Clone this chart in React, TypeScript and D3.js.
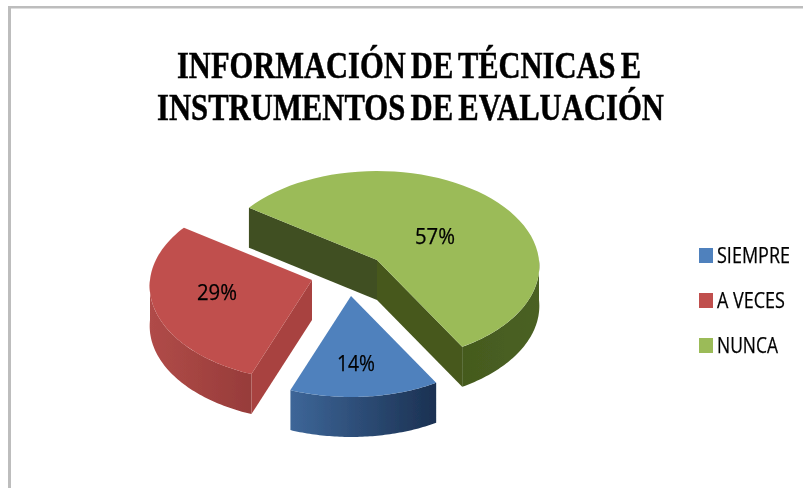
import React from "react";
import * as d3 from "d3";

const categories = ["SIEMPRE", "A VECES", "NUNCA"];
const values = [14, 29, 57];
const labels = ["14%", "29%", "57%"];
const titleLines = ["INFORMACIÓN DE TÉCNICAS E", "INSTRUMENTOS DE EVALUACIÓN"];

const topColors = ["#4F81BD", "#C0504D", "#9BBB59"];
const apexes: [number, number][] = [[351, 296], [312, 280], [377, 260]];
const labelPos: [number, number][] = [[356, 371], [217, 300], [435, 244]];
const labelWidths = [38, 40, 40];
const legendWidths = [73, 68, 61];
const DEPTH = 40;
const RX = 162;
const RY = 94.6;
const K = 0.063;
const START = (-55 * Math.PI) / 180 + (2 * Math.PI * 57) / 100;

const pie = d3.pie<number>().sort(null).startAngle(START).endAngle(START + 2 * Math.PI);
const arcs = pie(values);

const project = (a: number, apex: [number, number], dy = 0): [number, number] => {
  const w = 1 + K * Math.cos(a);
  return [apex[0] + (RX * Math.sin(a)) / w, apex[1] - (RY * Math.cos(a)) / w + dy];
};
const line = d3.line<[number, number]>();
const sample = (a0: number, a1: number, apex: [number, number], dy = 0) =>
  d3.range(0, 61).map((i) => project(a0 + ((a1 - a0) * i) / 60, apex, dy));

const wall = (a0: number, a1: number, apex: [number, number]) => {
  const top = sample(a0, a1, apex);
  const bottom = sample(a0, a1, apex, DEPTH).reverse();
  return line([...top, ...bottom]) + "Z";
};
const top = (a0: number, a1: number, apex: [number, number]) =>
  line([apex, ...sample(a0, a1, apex)]) + "Z";
const radialWall = (a: number, apex: [number, number]) => {
  const p = project(a, apex);
  return line([apex, p, [p[0], p[1] + DEPTH], [apex[0], apex[1] + DEPTH]]) + "Z";
};

export default function App() {
  const [blue, red, green] = arcs;
  const H = Math.PI / 2;
  return (
    <svg width={803} height={488} style={{ position: "fixed", left: 0, top: 0, background: "#fff" }}>
      <defs>
        <filter id="soft" x="-5%" y="-5%" width="110%" height="110%">
          <feGaussianBlur stdDeviation="0.6" />
        </filter>
        <linearGradient id="blueWall" x1="0" x2="1" y1="0" y2="0">
          <stop offset="0" stopColor="#3D6698" />
          <stop offset="1" stopColor="#1B3152" />
        </linearGradient>
        <linearGradient id="redWall" x1="0" x2="1" y1="0" y2="0">
          <stop offset="0" stopColor="#B04B48" />
          <stop offset="1" stopColor="#973C3A" />
        </linearGradient>
        <linearGradient id="greenWall" x1="0" x2="1" y1="0" y2="0">
          <stop offset="0" stopColor="#445A1E" />
          <stop offset="1" stopColor="#4B6123" />
        </linearGradient>
      </defs>
      <rect x={0} y={0} width={803} height={488} fill="#fff" />
      <g fill="#BDBDBD">
        <rect x={8} y={6} width={795} height={2.5} />
        <rect x={8} y={6} width={3} height={482} />
      </g>

      <g filter="url(#soft)">
        <path d={wall(red.startAngle, Math.min(red.endAngle, 3 * H), apexes[1])} fill="url(#redWall)" />
        <path d={radialWall(red.startAngle, apexes[1])} fill="#A8423F" />
        <path d={top(red.startAngle, red.endAngle, apexes[1])} fill={topColors[1]} />
        <path d={wall(blue.startAngle, blue.endAngle, apexes[0])} fill="url(#blueWall)" />
        <path d={top(blue.startAngle, blue.endAngle, apexes[0])} fill={topColors[0]} />
        <path d={radialWall(green.startAngle, apexes[2])} fill="#3F5020" />
        <path d={radialWall(green.endAngle, apexes[2])} fill="#47591F" />
        <path d={wall(H + 2 * Math.PI, green.endAngle, apexes[2])} fill="url(#greenWall)" />
        <path d={top(green.startAngle, green.endAngle, apexes[2])} fill={topColors[2]} />
      </g>

      <g filter="url(#soft)" fontFamily="'Open Sans',sans-serif" fill="#000" stroke="#000" strokeWidth={0.25}>
        {labels.map((t, i) => (
          <text key={t} x={labelPos[i][0] - labelWidths[i] / 2} y={labelPos[i][1]} fontSize={21} textLength={labelWidths[i]} lengthAdjust="spacingAndGlyphs">{t}</text>
        ))}
      </g>

      <g filter="url(#soft)" fontFamily="'Liberation Serif',serif" fontWeight="bold" fill="#000" stroke="#000" strokeWidth={0.5} fontSize={38} wordSpacing={-3}>
        <text x={177} y={78} textLength={464} lengthAdjust="spacingAndGlyphs">{titleLines[0]}</text>
        <text x={157} y={120} textLength={507} lengthAdjust="spacingAndGlyphs">{titleLines[1]}</text>
      </g>

      <g filter="url(#soft)">
        {categories.map((c, i) => {
          const y = 248 + i * 45;
          return (
            <g key={c}>
              <rect x={699} y={y} width={14} height={15} fill={topColors[i]} />
              <text x={717} y={y + 15} fontSize={21} fill="#000" stroke="#000" strokeWidth={0.25} fontFamily="'Open Sans',sans-serif" textLength={legendWidths[i]} lengthAdjust="spacingAndGlyphs">{c}</text>
            </g>
          );
        })}
      </g>
    </svg>
  );
}
